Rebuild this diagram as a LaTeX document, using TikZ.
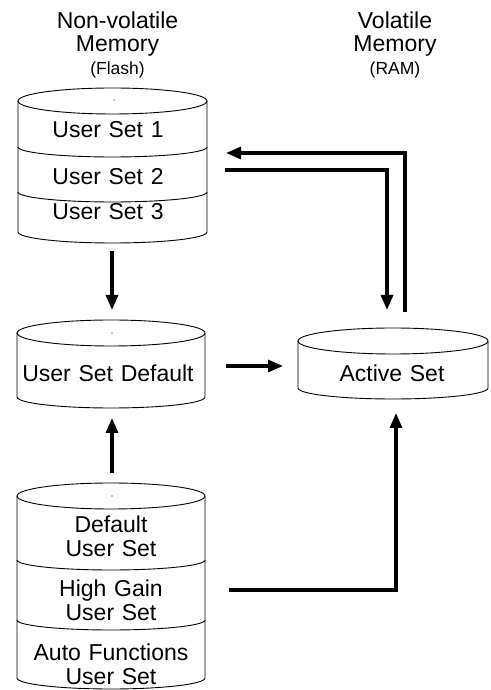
\documentclass[tikz,border=0pt]{standalone}
\usepackage{fontspec}
\setmainfont{Liberation Sans}
\usetikzlibrary{arrows.meta}

% cylinder outline: centre x, half width, top, bottom
\newcommand{\drum}[4]{%
  \draw[drum] (#1,#3) ellipse ({#2pt} and 13pt);
  \draw[drum] (#1-#2,#3) -- (#1-#2,#4)
    arc[start angle=180,end angle=360,x radius=#2pt,y radius=11pt] -- (#1+#2,#3);
}
% divider inside a cylinder: centre x, half width, height
\newcommand{\drumsep}[3]{%
  \draw[drum] (#1-#2,#3) arc[start angle=180,end angle=360,x radius=#2pt,y radius=10pt];
}

\begin{document}
\begin{tikzpicture}[x=1pt,y=1pt,
    drum/.style={line width=0.9pt},
    lbl/.style={text width=189pt,align=center,inner sep=0pt,
      font=\fontsize{23}{24}\selectfont},
    head/.style={align=center,inner sep=0pt,anchor=north,
      font=\fontsize{23}{23}\selectfont},
    flow/.style={line width=3.2pt,-{Triangle[length=15pt,width=12pt]}}]
    \useasboundingbox (0,0) rectangle (490,690);

    % Draw headings
    \node[head] (nvm) at (117.5,678) {Non-volatile\\Memory\\{\fontsize{17.5}{24}\selectfont (Flash)}};
    \node[head] (vm) at (395,678) {Volatile\\Memory\\{\fontsize{17.5}{24}\selectfont (RAM)}};

    % Draw cylinders
    \drum{112.5}{94.5}{589}{458}
    \drumsep{112.5}{94.5}{543}
    \drumsep{112.5}{94.5}{498}
    \drum{111}{94}{357}{293}
    \drum{393}{95}{349}{302}
    \drum{111}{94}{194}{12}
    \drumsep{111}{94}{130}
    \drumsep{111}{94}{70}

    % small marks on the lids
    \fill (114,590) circle (0.6pt);
    \fill (112,357) circle (0.6pt);
    \fill (112,194) circle (0.6pt);

    % Draw labels
    \node[lbl] (set1) at (108,560) {User Set 1};
    \node[lbl] (set2) at (108,513.5) {User Set 2};
    \node[lbl] (set3) at (108,478.5) {User Set 3};
    \node[lbl] (setdef) at (108,317) {User Set Default};
    \node[lbl] (active) at (392,317) {Active Set};
    \node[lbl] (dflt) at (111,154) {Default\\User Set};
    \node[lbl] (highgain) at (111,90) {High Gain\\User Set};
    \node[lbl] (autofn) at (111,26) {Auto Functions\\User Set};

    % Draw arrows
    \draw[flow] ([xshift=4pt,yshift=-40pt]set3.center) -- ([xshift=4pt,yshift=63pt]setdef.center);
    \draw[flow] ([xshift=1pt,yshift=63pt]dflt.center) -- ([xshift=4pt,yshift=-45pt]setdef.center);
    \draw[flow] ([xshift=118pt,yshift=7pt]setdef.center) -- ([xshift=-109pt,yshift=7pt]active.center);
    \draw[flow] ([xshift=13pt,yshift=61pt]active.center) |- ([xshift=118pt,yshift=-23pt]set1.center);
    \draw[flow] ([xshift=117pt,yshift=6.5pt]set2.center) -| ([xshift=-5pt,yshift=63pt]active.center);
    \draw[flow] ([xshift=118pt,yshift=10pt]highgain.center) -| ([xshift=4pt,yshift=-40pt]active.center);

\end{tikzpicture}
\end{document}
